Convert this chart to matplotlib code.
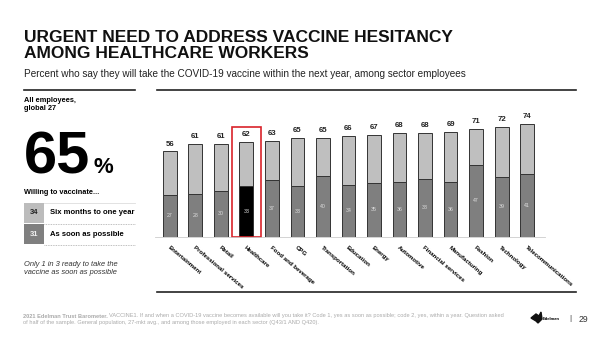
import numpy as np
import matplotlib.pyplot as plt
from matplotlib.patches import Rectangle, Polygon
from matplotlib.lines import Line2D

plt.rcParams['font.family'] = ['Liberation Sans', 'DejaVu Sans']

sectors = ['Entertainment', 'Professional services', 'Retail', 'Healthcare',
           'Food and beverage', 'CPG', 'Transportation', 'Education', 'Energy',
           'Automotive', 'Financial services', 'Manufacturing', 'Fashion',
           'Technology', 'Telecommunications']
total = [56, 61, 61, 62, 63, 65, 65, 66, 67, 68, 68, 69, 71, 72, 74]
asap = [27, 28, 30, 33, 37, 33, 40, 34, 35, 36, 38, 36, 47, 39, 41]
highlight = 'Healthcare'

global_total = 65
global_year = 34
global_asap = 31

W, H = 600, 337
fig = plt.figure(figsize=(6, 3.37), dpi=100)


def fx(x):
    return x / W


def fy(y):
    return 1 - y / H


# header
fig.text(fx(24), fy(41.5), 'URGENT NEED TO ADDRESS VACCINE HESITANCY',
         fontsize=12.5, fontweight='bold', va='baseline', color='#111111')
fig.text(fx(24), fy(57.5), 'AMONG HEALTHCARE WORKERS',
         fontsize=12.5, fontweight='bold', va='baseline', color='#111111')
fig.text(fx(24), fy(74), 'Percent who say they will take the COVID-19 vaccine within the next year, '
         'among sector employees', fontsize=7.2, va='center', color='#222222')
fig.add_artist(Line2D([fx(24), fx(135)], [fy(89.5), fy(89.5)], color='#222222', lw=1.2))
fig.add_artist(Line2D([fx(157), fx(576)], [fy(89.5), fy(89.5)], color='#222222', lw=1.2))
fig.add_artist(Line2D([fx(157), fx(576)], [fy(291.5), fy(291.5)], color='#222222', lw=1.2))

# left panel: all employees
fig.text(fx(24), fy(100), 'All employees,', fontsize=5.3, fontweight='bold', va='center')
fig.text(fx(24), fy(109), 'global 27', fontsize=5.3, fontweight='bold', va='center')
fig.text(fx(23.5), fy(173), str(global_total), fontsize=43, fontweight='bold', va='baseline')
fig.text(fx(93), fy(173), '%', fontsize=16, fontweight='bold', va='baseline')
fig.text(fx(24), fy(193), 'Willing to vaccinate...', fontsize=5.3, fontweight='bold', va='center')

rows = [(global_year, 'Six months to one year', '#bcbcbc', '#222222'),
        (global_asap, 'As soon as possible', '#7f7f7f', '#eeeeee')]
for i, (val, label, c, tc) in enumerate(rows):
    top = 203 + i * 21
    fig.add_artist(Rectangle((fx(24), fy(top + 20)), fx(20), 20 / H, color=c, lw=0))
    fig.text(fx(34), fy(top + 10), str(val), fontsize=5.5, fontweight='bold',
             color=tc, ha='center', va='center')
    fig.text(fx(50), fy(top + 10), label, fontsize=5.5, fontweight='bold', va='center')
    fig.add_artist(Line2D([fx(44), fx(135)], [fy(top + 20.5), fy(top + 20.5)],
                          color='#aaaaaa', lw=0.6, ls=(0, (1, 1))))
fig.add_artist(Line2D([fx(44), fx(135)], [fy(203), fy(203)], color='#dddddd', lw=0.6))

fig.text(fx(24), fy(264), 'Only 1 in 3 ready to take the', fontsize=5.4, style='italic',
         va='center', color='#333333')
fig.text(fx(24), fy(273), 'vaccine as soon as possible', fontsize=5.4, style='italic',
         va='center', color='#333333')

# sector bars
ax = fig.add_axes([fx(155), fy(236.5), fx(390), 126.5 / H])
x = np.arange(len(sectors))
top_part = np.array(total) - np.array(asap)
dark = ['#000000' if s == highlight else '#7f7f7f' for s in sectors]
ax.bar(x, asap, width=0.54, color=dark, edgecolor='#333333', linewidth=0.7)
ax.bar(x, top_part, bottom=asap, width=0.54, color='#bfbfbf', edgecolor='#333333', linewidth=0.7)
ax.set_xlim(-0.58, 14.7)
ax.set_ylim(0, 126.5 / 1.52)

for xi, t, a in zip(x, total, asap):
    ax.text(xi, t + 2.5, str(t), ha='center', va='bottom', fontsize=5.6, fontweight='bold',
            color='#222222')
    ax.text(xi, a / 2, str(a), ha='center', va='center', fontsize=3.8, color='#dddddd')

hi = sectors.index(highlight)
ax.add_patch(Rectangle((hi - 0.57, 0), 1.14, 72, fill=False, edgecolor='#d9232a',
                       linewidth=1.2, clip_on=False))

for s in ['top', 'right', 'left']:
    ax.spines[s].set_visible(False)
ax.spines['bottom'].set_color('#cccccc')
ax.spines['bottom'].set_linewidth(0.6)
ax.set_yticks([])
ax.set_xticks(x)
ax.set_xticklabels(sectors, rotation=-40, ha='left', va='top', fontsize=4.4,
                   fontweight='bold', rotation_mode='anchor')
ax.tick_params(axis='x', length=0, pad=6)

# footer, bold source then the question text
src = fig.text(fx(23), fy(316), '2021 Edelman Trust Barometer.', fontsize=4.1, fontweight='bold',
               color='#aaaaaa', va='center')
fig.canvas.draw()
src_w = src.get_window_extent().width
fig.text(fx(23 + src_w + 1.5), fy(316), 'VACCINE1. If and when a COVID-19 vaccine becomes available '
         'will you take it? Code 1, yes as soon as possible; code 2, yes, within a year. '
         'Question asked', fontsize=4.1, color='#aaaaaa', va='center')
fig.text(fx(23), fy(322.5), 'of half of the sample. General population, 27-mkt avg., and among those '
         'employed in each sector (Q43/1 AND Q420).', fontsize=4.1, color='#aaaaaa', va='center')

logo = [(531, 318), (536, 314), (539, 316), (541, 312), (542, 319), (538, 323), (536, 321)]
fig.add_artist(Polygon([(fx(a), fy(b)) for a, b in logo], closed=True, color='#111111'))
fig.text(fx(543), fy(319), 'Edelman', fontsize=3, fontweight='bold', va='center')
fig.text(fx(570), fy(319), '|', fontsize=6, va='center', ha='center', color='#333333')
fig.text(fx(579), fy(319), '29', fontsize=6.2, va='center', color='#333333')

fig.savefig('out.png', dpi=100)
